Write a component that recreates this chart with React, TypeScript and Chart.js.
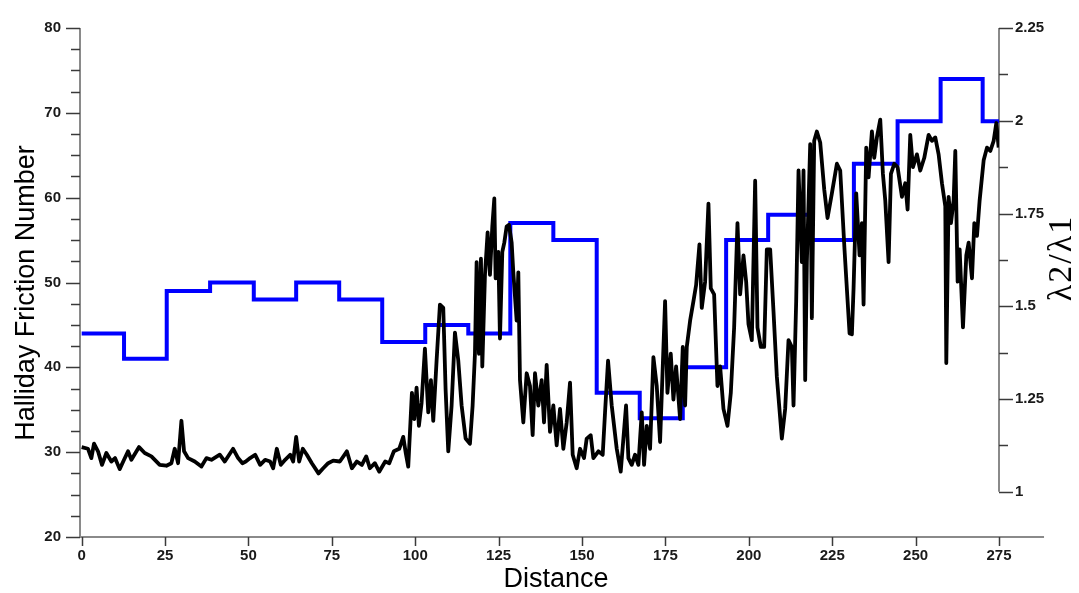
import React, { useEffect, useRef } from 'react';
import { Chart, registerables } from 'chart.js';

Chart.register(...registerables);

// Black series: Halliday Friction Number along distance
const distance = [
  0, 1.9, 2.9, 3.7, 4.9, 6.1, 7.4, 8.9, 10, 11.4,
  12.7, 13.9, 14.9, 17.2, 18.9, 20.9, 23.4, 25.4, 26.9, 27.9,
  28.9, 29.9, 30.7, 31.9, 33.9, 35.9, 37.4, 38.9, 41.4, 42.9,
  45.4, 46.9, 48.2, 49.2, 50.5, 52, 53.5, 55, 56.5, 57.4,
  58.5, 59.7, 61, 62.5, 63.4, 64.3, 65.2, 66.3, 67.5, 69,
  71, 72.4, 73.9, 75.4, 77.4, 79.5, 81, 82.5, 84, 85.3,
  86.4, 87.9, 89.2, 91, 92.2, 93.6, 95.2, 96.4, 97.2, 97.9,
  99, 99.7, 100.4, 101.1, 101.9, 102.9, 103.9, 104.7, 105.4, 106.4,
  107.4, 108.4, 109.1, 109.9, 110.9, 111.9, 112.9, 113.9, 115.1, 116.4,
  117.2, 117.9, 118.4, 119.1, 119.7, 120.1, 120.9, 121.7, 122.4, 123.1,
  123.7, 124.1, 124.9, 125.4, 126.1, 126.7, 127.4, 128.1, 128.9, 129.4,
  130.4, 130.9, 131.4, 132.4, 133.4, 134.4, 135.2, 135.9, 136.9, 137.9,
  138.6, 139.4, 140.4, 141.4, 142.4, 143.4, 144.4, 145.4, 146.4, 147.2,
  148.4, 149.4, 150.6, 151.4, 152.6, 153.4, 154.9, 156.2, 156.9, 157.8,
  158.9, 160.4, 161.6, 162.4, 163.2, 163.9, 164.9, 165.9, 166.9, 167.9,
  168.6, 169.4, 170.4, 171.4, 172.4, 173.4, 174.9, 175.6, 176.6, 177.4,
  178.2, 179.4, 180.2, 180.9, 181.4, 182.4, 183.4, 184.2, 185.2, 185.9,
  186.9, 187.9, 188.6, 189.6, 190.6, 191.4, 192.4, 193.6, 194.6, 195.6,
  196.6, 197.4, 198.4, 199.2, 199.9, 200.9, 201.9, 202.6, 203.6, 204.6,
  205.4, 206.4, 207.4, 208.4, 209.9, 210.9, 211.9, 212.9, 213.4, 214.2,
  214.9, 215.9, 216.4, 216.9, 217.4, 218.4, 218.9, 219.6, 220.4, 221.4,
  222.6, 223.6, 224.9, 226.4, 227.4, 228.7, 230.2, 230.9, 231.4, 232.2,
  233.2, 233.9, 234.4, 235.2, 235.9, 236.9, 237.6, 238.4, 239.4, 240.2,
  240.9, 241.9, 242.6, 243.6, 244.6, 245.9, 246.9, 247.6, 248.4, 249.2,
  250.4, 251.4, 252.6, 253.9, 254.9, 255.9, 256.9, 257.9, 258.9, 259.2,
  259.9, 260.6, 261.4, 261.9, 262.6, 263.2, 264.2, 265.2, 265.9, 266.9,
  267.6, 268.4, 269.2, 270.4, 271.4, 272.4, 273.4, 274.2, 274.9,
];

const hfn = [
  30.6, 30.4, 29.3, 31.0, 30.1, 28.5, 29.9, 28.9, 29.3, 28.0,
  29.1, 30.1, 29.1, 30.6, 29.9, 29.5, 28.5, 28.4, 28.7, 30.4,
  28.7, 33.7, 30.1, 29.3, 28.9, 28.3, 29.3, 29.1, 29.7, 28.9,
  30.4, 29.3, 28.7, 28.9, 29.3, 29.7, 28.5, 29.1, 28.9, 28.1,
  30.4, 28.5, 29.1, 29.7, 28.9, 31.8, 28.9, 30.4, 29.7, 28.7,
  27.5, 28.1, 28.7, 29.0, 28.9, 30.1, 28.1, 28.9, 28.5, 29.5,
  28.1, 28.7, 27.7, 28.9, 28.7, 30.1, 30.4, 31.8, 29.8, 28.3,
  37.0, 33.9, 37.6, 33.1, 35.8, 42.2, 34.7, 38.5, 33.7, 40.8,
  47.4, 47.0, 37.4, 30.1, 35.5, 44.1, 40.8, 35.5, 31.6, 31.0,
  35.5, 41.6, 52.4, 41.6, 52.8, 40.1, 50.9, 55.9, 50.9, 56.6,
  59.9, 50.5, 53.6, 43.4, 53.6, 54.7, 56.6, 56.8, 54.7, 51.2,
  45.5, 51.2, 38.5, 33.5, 39.3, 37.8, 32.0, 39.3, 35.5, 38.5,
  33.5, 40.3, 32.4, 35.5, 30.8, 35.1, 30.4, 33.5, 38.2, 29.7,
  28.1, 30.4, 29.3, 31.6, 32.0, 29.3, 30.1, 29.7, 34.7, 40.8,
  35.5, 30.4, 27.7, 31.6, 35.5, 29.3, 28.5, 29.7, 28.5, 34.7,
  28.5, 33.1, 30.4, 41.2, 37.8, 31.2, 47.8, 37.0, 41.6, 36.2,
  40.1, 33.9, 42.4, 35.5, 42.4, 45.5, 47.8, 49.7, 54.5, 47.0,
  50.1, 59.3, 49.3, 48.6, 37.8, 40.1, 35.1, 33.1, 37.0, 44.7,
  57.0, 48.6, 53.2, 50.1, 45.1, 43.2, 62.0, 44.7, 42.4, 42.4,
  53.9, 53.9, 46.6, 38.9, 31.6, 35.1, 43.2, 42.4, 35.5, 47.8,
  63.2, 52.4, 63.2, 38.5, 52.4, 66.3, 45.8, 66.7, 67.8, 66.5,
  61.0, 57.6, 60.5, 64.0, 63.2, 53.8, 44.0, 43.9, 49.3, 60.5,
  53.2, 57.0, 47.4, 65.9, 62.4, 67.8, 64.7, 67.1, 69.2, 62.8,
  59.7, 52.4, 62.8, 64.0, 63.6, 60.1, 61.7, 58.6, 67.4, 63.6,
  65.1, 63.2, 64.7, 67.4, 66.7, 67.1, 65.1, 61.7, 59.0, 40.5,
  60.1, 57.0, 59.7, 65.5, 50.1, 53.9, 44.7, 53.2, 54.7, 50.5,
  57.0, 55.5, 59.7, 64.4, 65.9, 65.5, 66.7, 68.8, 65.9,
];

// Blue stepped series (each value starts at its step start)
const stepStart = [0, 12.7, 25.5, 38.5, 51.6, 64.3, 77.2, 90.1, 103, 115.9, 128.5, 141.4, 154.4, 167.3, 180.2, 193.2, 205.8, 218.8, 231.5, 244.6, 257.5, 270.1, 275];
const stepValue = [44, 41, 49, 50, 48, 50, 48, 43, 45, 44, 57, 55, 37, 34, 40, 55, 58, 55, 64, 69, 74, 69, 69];

// Axes
const xTicks = [0, 25, 50, 75, 100, 125, 150, 175, 200, 225, 250, 275];
const leftTicks = [20, 22.5, 25, 27.5, 30, 32.5, 35, 37.5, 40, 42.5, 45, 47.5, 50, 52.5, 55, 57.5, 60, 62.5, 65, 67.5, 70, 72.5, 75, 77.5, 80];
const leftLabels = [20, 30, 40, 50, 60, 70, 80];
const rightTicks = [1, 1.125, 1.25, 1.375, 1.5, 1.625, 1.75, 1.875, 2, 2.125, 2.25];
const rightLabels = [1, 1.25, 1.5, 1.75, 2, 2.25];

const X_MIN = -0.5;
const X_MAX = 275;
const X_AXIS_END = 288.5;
const LEFT_MIN = 20;
const LEFT_MAX = 80;
const RIGHT_MIN = 0.8784;
const RIGHT_MAX = 2.25;

const AXIS_COLOR = '#8a8a8a';
const TICK_COLOR = '#3a3a3a';
const Y_TICK_FONT = { family: '"Liberation Sans", Arial, sans-serif', size: 15, weight: 'bold' };
const X_TICK_FONT = { family: '"Liberation Sans Narrow", "Arial Narrow", "Liberation Sans", sans-serif', size: 15, weight: 'bold' };

const axesPlugin = {
  id: 'customAxes',
  beforeDatasetsDraw(chart: any) {
    const { ctx, chartArea, scales } = chart;
    const x = scales.x;
    const y = scales.y;
    const y2 = scales.y2;
    const seg = (x1: number, y1: number, x2: number, yy2: number) => {
      ctx.beginPath();
      ctx.moveTo(x1, y1);
      ctx.lineTo(x2, yy2);
      ctx.stroke();
    };
    ctx.save();
    ctx.strokeStyle = AXIS_COLOR;
    ctx.lineWidth = 2;
    seg(chartArea.left, chartArea.top, chartArea.left, chartArea.bottom);
    seg(chartArea.left, chartArea.bottom, x.getPixelForValue(X_AXIS_END), chartArea.bottom);
    seg(chartArea.right, y2.getPixelForValue(rightTicks[0]), chartArea.right, y2.getPixelForValue(rightTicks[rightTicks.length - 1]));

    ctx.strokeStyle = TICK_COLOR;
    ctx.lineWidth = 1.5;
    leftTicks.forEach((v) => {
      const py = Math.round(y.getPixelForValue(v)) + 0.5;
      const len = leftLabels.includes(v) ? 14 : 9;
      seg(chartArea.left - len, py, chartArea.left, py);
    });
    rightTicks.forEach((v) => {
      const py = Math.round(y2.getPixelForValue(v)) + 0.5;
      const len = rightLabels.includes(v) ? 14 : 9;
      seg(chartArea.right, py, chartArea.right + len, py);
    });
    xTicks.forEach((v) => {
      const px = Math.round(x.getPixelForValue(v)) + 0.5;
      seg(px, chartArea.bottom, px, chartArea.bottom + 9);
    });
    ctx.restore();
  },
  afterDraw(chart: any) {
    const { ctx } = chart;
    ctx.save();
    ctx.fillStyle = '#000';
    ctx.textAlign = 'center';
    ctx.textBaseline = 'middle';
    ctx.font = '27px "Liberation Sans", Arial, sans-serif';
    ctx.save();
    ctx.translate(27, 293);
    ctx.rotate(-Math.PI / 2);
    ctx.fillText('Halliday Friction Number', 0, 0);
    ctx.restore();
    ctx.fillText('Distance', 556, 580);
    ctx.font = '34px "Liberation Serif", "Times New Roman", serif';
    try {
      (ctx as any).letterSpacing = '2px';
    } catch (e) {
      // ignore
    }
    ctx.save();
    ctx.translate(1062, 259);
    ctx.rotate(-Math.PI / 2);
    ctx.fillText('λ2/λ1', 1, 0);
    ctx.restore();
    try {
      (ctx as any).letterSpacing = '0px';
    } catch (e) {
      // ignore
    }
    ctx.restore();
  },
};

export default function App() {
  const canvasRef = useRef<HTMLCanvasElement | null>(null);

  useEffect(() => {
    const canvas = canvasRef.current;
    if (!canvas) return;
    const blackPts = distance.map((d, i) => ({ x: d, y: hfn[i] }));
    const bluePts = stepStart.map((d, i) => ({ x: d, y: stepValue[i] }));

    const chart = new Chart(canvas, {
      type: 'line',
      data: {
        datasets: [
          {
            label: 'Halliday Friction Number',
            data: blackPts,
            borderColor: '#000000',
            borderWidth: 3.8,
            borderJoinStyle: 'round',
            pointRadius: 0,
            tension: 0,
            xAxisID: 'x',
            yAxisID: 'y',
          },
          {
            label: 'λ2/λ1',
            data: bluePts,
            borderColor: '#0000ff',
            borderWidth: 4,
            pointRadius: 0,
            stepped: true,
            xAxisID: 'x',
            yAxisID: 'y',
          },
        ],
      },
      options: {
        responsive: false,
        animation: false,
        events: [],
        layout: { padding: { top: 18, left: 0, right: 0, bottom: 0 } },
        plugins: {
          legend: { display: false },
          tooltip: { enabled: false },
          title: { display: false },
        },
        scales: {
          x: {
            type: 'linear',
            position: 'bottom',
            min: X_MIN,
            max: X_MAX,
            afterBuildTicks: (s: any) => {
              s.ticks = xTicks.map((v) => ({ value: v }));
            },
            afterFit: (s: any) => {
              s.height = 56;
            },
            grid: { display: false, drawTicks: false },
            border: { display: false },
            ticks: {
              padding: 10,
              maxRotation: 0,
              autoSkip: false,
              color: '#1a1a1a',
              font: X_TICK_FONT,
              callback: (v: any) => String(v),
            },
          },
          y: {
            type: 'linear',
            position: 'left',
            min: LEFT_MIN,
            max: LEFT_MAX,
            afterBuildTicks: (s: any) => {
              s.ticks = leftTicks.map((v) => ({ value: v }));
            },
            afterFit: (s: any) => {
              s.width = 80;
            },
            grid: { display: false, drawTicks: false },
            border: { display: false },
            ticks: {
              padding: 19,
              autoSkip: false,
              color: '#1a1a1a',
              font: Y_TICK_FONT,
              callback: (v: any) => (leftLabels.includes(v) ? String(v) : ''),
            },
          },
          y2: {
            type: 'linear',
            position: 'right',
            min: RIGHT_MIN,
            max: RIGHT_MAX,
            afterBuildTicks: (s: any) => {
              s.ticks = rightTicks.map((v) => ({ value: v }));
            },
            afterFit: (s: any) => {
              s.width = 80;
            },
            grid: { display: false, drawTicks: false },
            border: { display: false },
            ticks: {
              padding: 16,
              autoSkip: false,
              color: '#1a1a1a',
              font: Y_TICK_FONT,
              callback: (v: any) => (rightLabels.includes(v) ? String(v) : ''),
            },
          },
        },
      },
      plugins: [axesPlugin],
    } as any);

    return () => {
      chart.destroy();
    };
  }, []);

  return (
    <div style={{ position: 'absolute', left: 0, top: 0, width: 1079, height: 593, background: '#fff' }}>
      <canvas ref={canvasRef} width={1079} height={593} style={{ display: 'block', width: 1079, height: 593 }} />
    </div>
  );
}
